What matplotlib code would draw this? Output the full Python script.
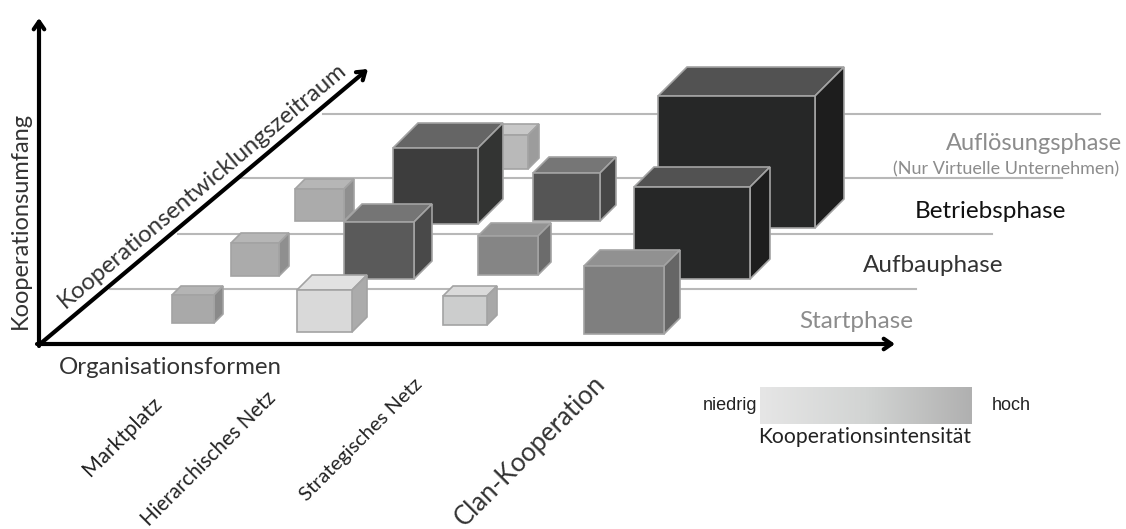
import numpy as np
import matplotlib
matplotlib.use('Agg')
import matplotlib.pyplot as plt
from matplotlib.patches import Polygon

plt.rcParams['font.family'] = ['Lato', 'DejaVu Sans']

W, H = 1126, 529

# phase rows, back to front
phases = ['Auflösungsphase', 'Betriebsphase', 'Aufbauphase', 'Startphase']
phase_colors = ['#8c8c8c', '#111111', '#333333', '#8c8c8c']
phase_line_y = [114, 178, 234, 289]
phase_line_x0 = [323, 240, 178, 110]
phase_line_x1 = [1100, 1062, 992, 916]

forms = ['Marktplatz', 'Hierarchisches Netz', 'Strategisches Netz', 'Clan-Kooperation']

# cubes in draw order (back to front), front face given by left/right/top/bottom
cube_left   = [490, 295, 393, 533, 658, 231, 344, 478, 634, 172, 297, 443, 584]
cube_right  = [528, 344, 478, 600, 815, 279, 414, 538, 750, 214, 352, 487, 664]
cube_top    = [135, 189, 148, 173,  96, 243, 222, 236, 187, 295, 290, 296, 266]
cube_bottom = [169, 221, 224, 221, 228, 276, 279, 275, 279, 323, 332, 325, 334]
cube_depth  = [ 11,  10,  25,  16,  29,  10,  18,  13,  20,   9,  15,  10,  16]
cube_front  = ['#b9b9b9', '#ababab', '#3d3d3d', '#555555', '#262727', '#ababab', '#5a5a5a',
               '#858585', '#262727', '#a9a9a9', '#d9d9d9', '#cccdcd', '#7f7f7f']
cube_roof   = ['#c8c8c8', '#b6b6b6', '#656565', '#767676', '#525252', '#b6b6b6', '#757575',
               '#939393', '#525252', '#b4b4b4', '#e2e2e2', '#dadada', '#919191']
cube_side   = ['#9c9c9c', '#8f8f8f', '#333433', '#464646', '#1d1d1d', '#8f8f8f', '#494949',
               '#6c6c6c', '#1d1d1d', '#8a8a8a', '#ababab', '#a8a8a8', '#666666']

fig = plt.figure(figsize=(W / 100, H / 100), dpi=100)
ax = fig.add_axes([0, 0, 1, 1])
ax.set_xlim(0, W)
ax.set_ylim(H, 0)
ax.axis('off')

for y, x0, x1 in zip(phase_line_y, phase_line_x0, phase_line_x1):
    ax.plot([x0, x1], [y, y], color='#b8b8b8', lw=1.5, zorder=1)

edge = '#a3a3a3'
for i in range(len(cube_left)):
    l, r, t, b, d = cube_left[i], cube_right[i], cube_top[i], cube_bottom[i], cube_depth[i]
    front = [(l, t), (r, t), (r, b), (l, b)]
    roof = [(l, t), (l + d, t - d), (r + d, t - d), (r, t)]
    side = [(r, t), (r + d, t - d), (r + d, b - d), (r, b)]
    z = 2 + i * 0.1
    ax.add_patch(Polygon(roof, closed=True, fc=cube_roof[i], ec=edge, lw=1.2, zorder=z))
    ax.add_patch(Polygon(side, closed=True, fc=cube_side[i], ec=edge, lw=1.2, zorder=z))
    ax.add_patch(Polygon(front, closed=True, fc=cube_front[i], ec=edge, lw=1.2, zorder=z))

# the three axes
arrow = dict(arrowstyle='->,head_length=0.55,head_width=0.38', color='black', lw=3, shrinkA=0, shrinkB=0)
ax.annotate('', xy=(39, 18), xytext=(39, 346), arrowprops=arrow, zorder=6)
ax.annotate('', xy=(895, 344), xytext=(37, 344), arrowprops=arrow, zorder=6)
ax.annotate('', xy=(368, 69), xytext=(40, 344), arrowprops=arrow, zorder=6)

ax.text(20, 220, 'Kooperationsumfang', rotation=90, ha='center', va='center', fontsize=17, color='#333333')
ax.text(202, 185, 'Kooperationsentwicklungszeitraum', rotation=40, rotation_mode='anchor',
        ha='center', va='center', fontsize=17.2, color='#333333')
ax.text(59, 367, 'Organisationsformen', ha='left', va='center', fontsize=17.3, color='#333333')

# phase names on the right
ax.text(1122, 144, phases[0], ha='right', va='center', fontsize=17, color=phase_colors[0])
ax.text(1119, 169, '(Nur Virtuelle Unternehmen)', ha='right', va='center', fontsize=13, color='#8c8c8c')
ax.text(1066, 211, phases[1], ha='right', va='center', fontsize=17.5, color=phase_colors[1])
ax.text(1003, 265, phases[2], ha='right', va='center', fontsize=17.5, color=phase_colors[2])
ax.text(913, 322, phases[3], ha='right', va='center', fontsize=17.5, color=phase_colors[3])

# organisation forms, slanted below the axis
ax.text(122, 437, forms[0], rotation=45, rotation_mode='anchor', ha='center', va='center',
        fontsize=15.5, color='#222222')
ax.text(209, 459, forms[1], rotation=45, rotation_mode='anchor', ha='center', va='center',
        fontsize=14.8, color='#222222')
ax.text(361, 440, forms[2], rotation=45, rotation_mode='anchor', ha='center', va='center',
        fontsize=14.5, color='#222222')
ax.text(530, 451, forms[3], rotation=45, rotation_mode='anchor', ha='center', va='center',
        fontsize=18.5, color='#333333')

# intensity scale
grad = np.linspace(0, 1, 256).reshape(1, -1)
cmap = matplotlib.colors.LinearSegmentedColormap.from_list('intens', ['#e6e6e6', '#d2d4d3', '#b0b0b0'])
ax.imshow(grad, extent=(760, 972, 424, 387), cmap=cmap, aspect='auto', zorder=1)
ax.set_xlim(0, W)
ax.set_ylim(H, 0)
ax.text(757, 405, 'niedrig', ha='right', va='center', fontsize=13, color='#222222', family='Liberation Sans')
ax.text(992, 405, 'hoch', ha='left', va='center', fontsize=13, color='#222222', family='Liberation Sans')
ax.text(865, 437, 'Kooperationsintensität', ha='center', va='center', fontsize=15.2, color='#222222')

fig.savefig('out.png', dpi=100)
